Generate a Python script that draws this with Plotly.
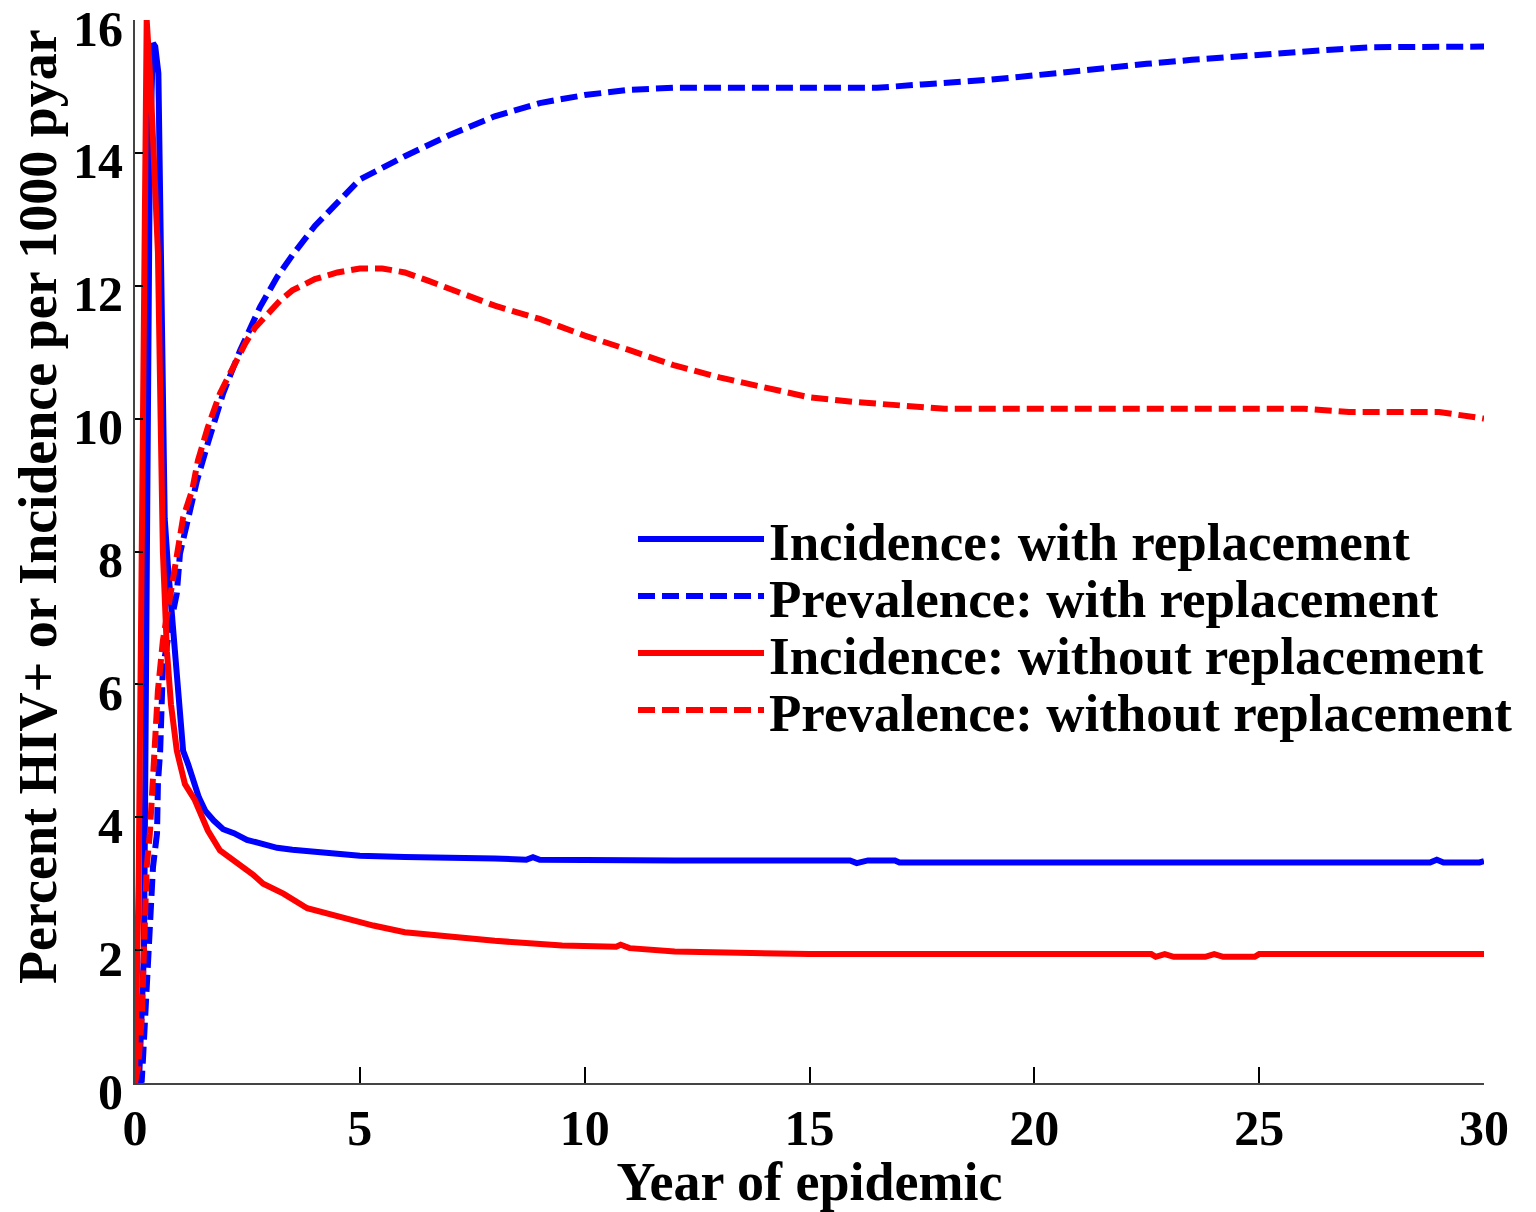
import plotly.graph_objects as go

# Incidence: with replacement (blue solid)
inc_with_x = [0.0, 0.1, 0.2, 0.28, 0.33, 0.4, 0.45, 0.52, 0.56, 0.6, 0.66, 0.73, 0.82, 0.96, 1.07, 1.18,
              1.29, 1.42, 1.56, 1.75, 1.96, 2.2, 2.49, 2.8, 3.16, 3.5, 3.83, 4.5, 5, 6, 7, 8, 8.7, 8.85,
              9.0, 10, 12, 14, 15.9, 16.05, 16.3, 16.9, 17.0, 20, 25, 28.8, 28.95, 29.1, 29.9, 30]
inc_with_y = [0.0, 0.2, 2.0, 8.0, 14.0, 15.65, 15.6, 15.2, 13.0, 10.5, 8.5, 7.8, 7.0, 5.8, 5.0, 4.8,
              4.55, 4.3, 4.1, 3.95, 3.82, 3.76, 3.66, 3.6, 3.54, 3.51, 3.49, 3.45, 3.42, 3.4, 3.4, 3.38, 3.36, 3.4,
              3.36, 3.35, 3.35, 3.35, 3.35, 3.31, 3.35, 3.35, 3.32, 3.32, 3.32, 3.32, 3.36, 3.32, 3.32, 3.34]

# Prevalence: with replacement (blue dashed)
prev_with_x = [0.0, 0.15, 0.18, 0.22, 0.29, 0.33, 0.4, 0.49, 0.51, 0.56, 0.6, 0.62, 0.82, 0.93, 1.0, 1.07,
               1.22, 1.38, 1.62, 1.96, 2.34, 2.56, 2.78, 3.16, 3.5, 4, 4.5, 5, 6, 7, 8, 9, 10, 11, 12,
               16.5, 17.5, 19, 20.5, 21.5, 22.5, 23.5, 24.5, 25.5, 26.5, 27.5, 30]
prev_with_y = [0.0, 0.04, 0.39, 0.9, 1.59, 2.25, 3.25, 3.76, 4.51, 5.0, 5.81, 6.26, 7.0, 7.37, 7.97, 8.17,
               8.52, 9.07, 9.63, 10.38, 11.03, 11.37, 11.68, 12.13, 12.46, 12.9, 13.25, 13.6, 13.95, 14.27, 14.55, 14.75, 14.87, 14.95, 14.98,
               14.98, 15.03, 15.1, 15.2, 15.28, 15.34, 15.4, 15.46, 15.5, 15.55, 15.59, 15.6]

# Incidence: without replacement (red solid)
inc_without_x = [0.0, 0.08, 0.15, 0.2, 0.26, 0.35, 0.45, 0.51, 0.57, 0.62, 0.71, 0.8, 0.93, 1.11, 1.33,
                 1.62, 1.89, 2.1, 2.34, 2.6, 2.85, 3.3, 3.83, 4.56, 5.3, 6, 7, 8, 9.5, 10.7, 10.8, 11, 12,
                 15, 22.6, 22.7, 22.9, 23.1, 23.8, 24.0, 24.2, 24.9, 25.0, 30]
inc_without_y = [0.0, 3.0, 8.0, 13.0, 16.0, 15.0, 13.5, 12.5, 10.0, 8.0, 6.5, 5.7, 5.0, 4.5, 4.26,
                 3.8, 3.5, 3.4, 3.27, 3.15, 3.0, 2.85, 2.63, 2.5, 2.37, 2.27, 2.2, 2.14, 2.07, 2.05, 2.08, 2.03, 1.98,
                 1.94, 1.94, 1.9, 1.94, 1.9, 1.9, 1.94, 1.9, 1.9, 1.94, 1.94]

# Prevalence: without replacement (red dashed)
prev_without_x = [0.0, 0.07, 0.15, 0.18, 0.22, 0.26, 0.33, 0.4, 0.44, 0.51, 0.62, 0.82, 0.96, 1.07, 1.27,
                  1.4, 1.62, 1.89, 2.45, 2.67, 2.85, 3.07, 3.23, 3.5, 4, 4.5, 5, 5.5, 6, 6.5, 7, 7.5, 8, 9,
                  10, 11, 12, 13, 14, 15, 16, 17, 18, 26, 27, 29, 30]
prev_without_y = [0.0, 0.24, 0.99, 1.74, 2.5, 3.25, 3.76, 4.51, 5.16, 5.91, 6.66, 7.5, 8.17, 8.51, 8.92,
                  9.37, 9.87, 10.38, 11.13, 11.37, 11.5, 11.68, 11.78, 11.93, 12.1, 12.2, 12.26, 12.26, 12.2, 12.08, 11.96, 11.83, 11.7, 11.5,
                  11.25, 11.03, 10.8, 10.62, 10.46, 10.32, 10.25, 10.2, 10.15, 10.15, 10.1, 10.1, 10.0]

x_ticks = [0, 5, 10, 15, 20, 25, 30]
y_ticks = [0, 2, 4, 6, 8, 10, 12, 14, 16]

series_names = ["Incidence: with replacement", "Prevalence: with replacement",
                "Incidence: without replacement", "Prevalence: without replacement"]
x_title = "Year of epidemic"
y_title = "Percent HIV+ or Incidence per 1000 pyar"

BLUE = "#0000FF"
RED = "#FF0000"
FONT = "Liberation Serif, Times New Roman, serif"
DASH = "17px,7px"
LW = 6

fig = go.Figure()
fig.add_trace(go.Scatter(x=inc_with_x, y=inc_with_y, mode="lines", name=series_names[0], legend="legend",
                         line=dict(color=BLUE, width=LW)))
fig.add_trace(go.Scatter(x=prev_with_x, y=prev_with_y, mode="lines", name=series_names[1], legend="legend2",
                         line=dict(color=BLUE, width=LW, dash=DASH)))
fig.add_trace(go.Scatter(x=inc_without_x, y=inc_without_y, mode="lines", name=series_names[2], legend="legend3",
                         line=dict(color=RED, width=LW)))
fig.add_trace(go.Scatter(x=prev_without_x, y=prev_without_y, mode="lines", name=series_names[3], legend="legend4",
                         line=dict(color=RED, width=LW, dash=DASH)))

# plot area spans 20..1083 px vertically, 135..1484 horizontally
def paper_y(py):
    return 1 - (py - 20) / 1063.0

def paper_x(px):
    return (px - 135) / 1349.0

legend_centers = [539, 596, 653, 710]
leg_common = dict(x=paper_x(633), xanchor="left", yanchor="middle", bgcolor="rgba(0,0,0,0)",
                  itemwidth=126, font=dict(size=53, family=FONT, weight="bold", color="black"))

fig.update_layout(
    width=1536, height=1212,
    margin=dict(l=135, r=52, t=20, b=129, autoexpand=False),
    paper_bgcolor="white", plot_bgcolor="white",
    font=dict(family=FONT, size=50, color="black", weight="bold"),
    legend=dict(y=paper_y(legend_centers[0]), **leg_common),
    legend2=dict(y=paper_y(legend_centers[1]), **leg_common),
    legend3=dict(y=paper_y(legend_centers[2]), **leg_common),
    legend4=dict(y=paper_y(legend_centers[3]), **leg_common),
    xaxis=dict(range=[0, 30], tickvals=x_ticks, ticks="inside", ticklen=16, tickwidth=1.5, tickcolor="black",
               showline=True, linecolor="#444", linewidth=2, showgrid=False, zeroline=False,
               ticklabeloverflow="allow", automargin=False,
               title=dict(text=x_title, font=dict(size=54, family=FONT, weight="bold"), standoff=8),
               tickfont=dict(size=50, family=FONT, weight="bold")),
    yaxis=dict(range=[0, 16], tickvals=y_ticks, ticks="inside", ticklen=8, tickwidth=1.5, tickcolor="black",
               showline=True, linecolor="#444", linewidth=2, showgrid=False, zeroline=False,
               ticklabeloverflow="allow", automargin=False, ticklabelshift=8,
               tickfont=dict(size=50, family=FONT, weight="bold")),
    annotations=[dict(text=y_title, textangle=-90, xref="paper", yref="paper",
                      x=paper_x(38), y=paper_y(507), xanchor="center", yanchor="middle",
                      showarrow=False, font=dict(size=54, family=FONT, weight="bold", color="black"))],
    showlegend=True,
)

fig.write_html("out.html")
